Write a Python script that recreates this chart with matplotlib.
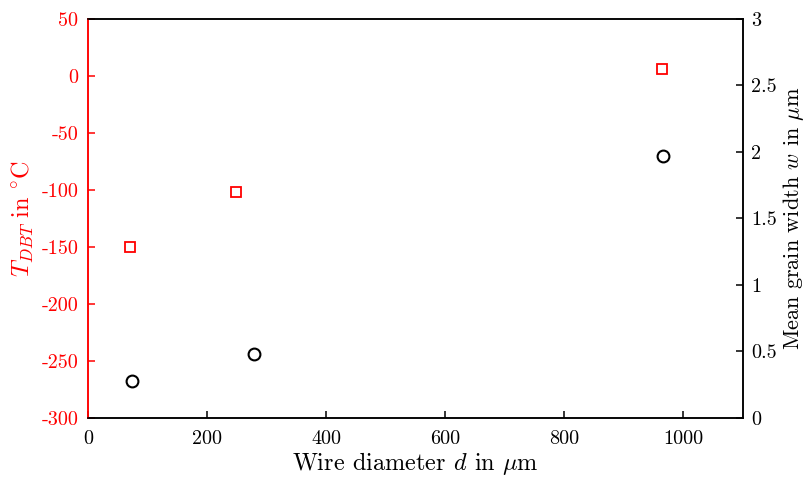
import matplotlib
matplotlib.use("Agg")
import matplotlib.pyplot as plt

# data
d_tdbt = [70, 249, 964]          # wire diameter, um
tdbt = [-150, -102, 6]           # T_DBT, degC
d_grain = [74, 279, 965]
grain_w = [0.28, 0.48, 1.97]     # mean grain width, um

xticks = [0, 200, 400, 600, 800, 1000]
yticks_left = [-300, -250, -200, -150, -100, -50, 0, 50]
yticks_right = [0, 0.5, 1, 1.5, 2, 2.5, 3]

plt.rcParams['font.family'] = 'cmr10'
plt.rcParams['mathtext.fontset'] = 'cm'
plt.rcParams['axes.unicode_minus'] = False

fig = plt.figure(figsize=(8.07, 4.83), dpi=100)
ax = fig.add_axes([0.109, 0.1346, 0.8117, 0.8261])
ax2 = ax.twinx()

ax.plot(d_tdbt, tdbt, 's', ms=6.5, mfc='none', mec='red', mew=1.3)
ax2.plot(d_grain, grain_w, 'o', ms=8.5, mfc='none', mec='black', mew=1.5)

ax.set_xlim(0, 1100)
ax.set_ylim(-300, 50)
ax2.set_ylim(0, 3)
ax.set_xticks(xticks)
ax.set_yticks(yticks_left)
ax.set_yticklabels([str(v) for v in yticks_left])
ax2.set_yticks(yticks_right)
ax2.set_yticklabels(['0', '0.5', '1', '1.5', '2', '2.5', '3'])

for a in (ax, ax2):
    for s in a.spines.values():
        s.set_linewidth(1.1)
ax.spines['left'].set_color('red')
ax2.spines['left'].set_color('red')

ax.tick_params(axis='x', direction='in', length=5, width=1.1, labelsize=14.5, colors='black', pad=9)
ax.tick_params(axis='y', direction='in', length=5, width=1.1, labelsize=14.5, colors='red', pad=7)
ax2.tick_params(axis='y', direction='in', length=5, width=1.1, labelsize=14.5, colors='black', pad=6)

ax.set_xlabel(r'Wire diameter $d$ in $\mu$m', fontsize=17.5, labelpad=1)
ax.set_ylabel(r'$T_{DBT}\ \mathrm{in}\ ^{\circ}\mathrm{C}$', fontsize=17.5, color='red', labelpad=4)
ax2.set_ylabel(r'Mean grain width $w$ in $\mu$m', fontsize=16, labelpad=3)

fig.savefig('out.png', dpi=100)
